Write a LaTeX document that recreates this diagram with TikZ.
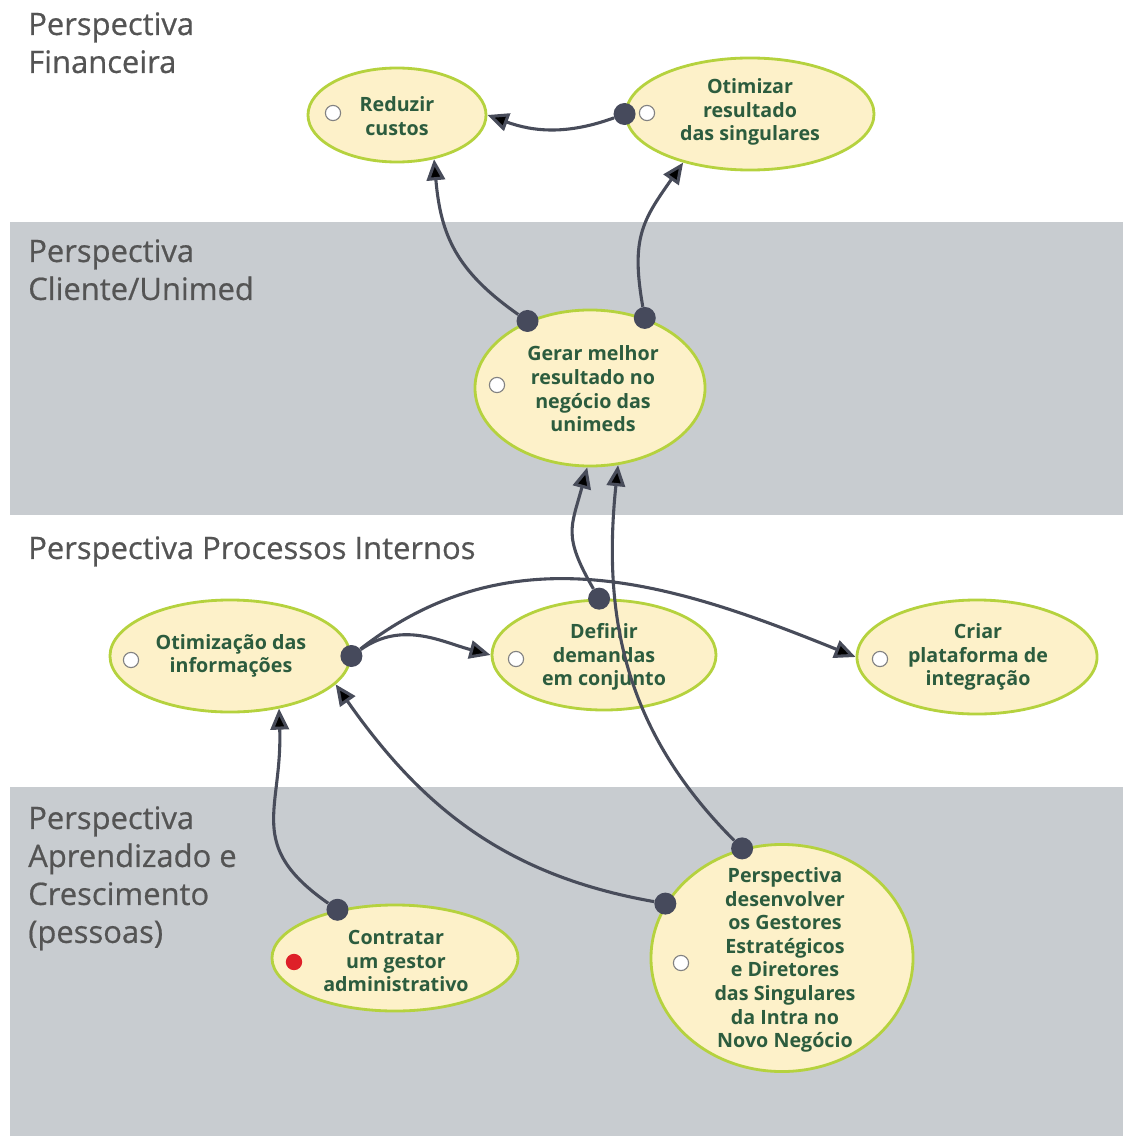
\documentclass[tikz,border=0pt]{standalone}
\usepackage{fontspec}
\setmainfont{Open Sans}
\newfontfamily\titlefont{Open Sans}[FakeBold=0.6]
\usepackage{tikz}
\usetikzlibrary{shapes.geometric,arrows.meta}

\definecolor{bandgray}{RGB}{200,204,208}
\definecolor{ellfill}{RGB}{253,241,201}
\definecolor{ellborder}{RGB}{181,210,62}
\definecolor{txtgreen}{RGB}{44,92,62}
\definecolor{titlegray}{RGB}{84,84,84}
\definecolor{dotblue}{RGB}{70,74,92}
\definecolor{linkgray}{RGB}{72,76,90}
\definecolor{holegray}{RGB}{130,130,130}
\definecolor{holered}{RGB}{222,32,40}

\begin{document}
\begin{tikzpicture}[x=0.025cm, y=-0.025cm,
	ell/.style={shape=ellipse, draw=ellborder, fill=ellfill, line width=2pt, inner sep=0pt},
	txt/.style={align=center, text=txtgreen, font=\fontsize{14}{16.8}\selectfont\bfseries, inner sep=0pt},
	title/.style={anchor=north west, align=left, text=titlegray, font=\titlefont\fontsize{22}{27}\selectfont, inner sep=0pt},
	hole/.style={shape=circle, draw=holegray, fill=white, line width=0.8pt, minimum size=0.38cm, inner sep=0pt},
	dot/.style={shape=circle, fill=dotblue, minimum size=0.55cm, inner sep=0pt},
	link/.style={-{Triangle[length=15pt,width=13pt]}, draw=linkgray, line width=2.2pt}]
	
	\useasboundingbox (0, 0) rectangle (1123, 1136);
	\fill[bandgray] (10, 222) rectangle (1123, 515);
	\fill[bandgray] (10, 787) rectangle (1123, 1136);
	
	\node[title] (tFin) at (28, 12)     {Perspectiva\\Financeira};
	\node[title] (tCli) at (28, 239)    {Perspectiva\\Cliente/Unimed};
	\node[title] (tProc) at (28, 536)   {Perspectiva Processos Internos};
	\node[title] (tApr) at (28, 806)    {Perspectiva\\Aprendizado e\\Crescimento\\(pessoas)};
	
	\node[ell, minimum width=4.45cm, minimum height=2.35cm] (reduzir) at (397, 115)     {};
	\node[ell, minimum width=6.2cm, minimum height=2.8cm] (otimizar) at (750, 114)     {};
	\node[ell, minimum width=5.75cm, minimum height=3.9cm] (gerar) at (590, 388)     {};
	\node[ell, minimum width=6cm, minimum height=2.8cm] (otinfo) at (230, 656)     {};
	\node[ell, minimum width=5.6cm, minimum height=2.75cm] (definir) at (604, 655)     {};
	\node[ell, minimum width=6cm, minimum height=2.85cm] (criar) at (977, 657)     {};
	\node[ell, minimum width=6.15cm, minimum height=2.65cm] (contratar) at (395, 958)     {};
	\node[ell, minimum width=6.55cm, minimum height=5.675cm] (desenv) at (782, 958)     {};
	
	\node[txt] (reduzir-t) at (397, 116)     {Reduzir\\custos};
	\node[txt] (otimizar-t) at (750, 112)     {Otimizar\\resultado\\das singulares};
	\node[txt] (gerar-t) at (593, 389)     {Gerar melhor\\resultado no\\negócio das\\unimeds};
	\node[txt] (otinfo-t) at (231, 656)     {Otimização das\\informações};
	\node[txt] (definir-t) at (604, 657)     {Definir\\demandas\\em conjunto};
	\node[txt] (criar-t) at (978, 657)     {Criar\\plataforma de\\integração};
	\node[txt] (contratar-t) at (396, 961)     {Contratar\\um gestor\\administrativo};
	\node[txt] (desenv-t) at (785, 960)     {Perspectiva\\desenvolver\\os Gestores\\Estratégicos\\e Diretores\\das Singulares\\da Intra no\\Novo Negócio};
	
	\node[hole] (reduzir-c) at (333, 113)     {};
	\node[hole] (otimizar-c) at (647, 113)     {};
	\node[hole] (gerar-c) at (497, 385)     {};
	\node[hole] (otinfo-c) at (131, 660)     {};
	\node[hole] (definir-c) at (516, 659)     {};
	\node[hole] (criar-c) at (880, 659)     {};
	\node[hole, draw=holered, fill=holered] (contratar-c) at (294, 962)     {};
	\node[hole] (desenv-c) at (681, 963)     {};
	
	\node[dot] (dOtim) at (otimizar.west)     {};
	\node[dot] (dGerarL) at (gerar.133)     {};
	\node[dot] (dGerarR) at (gerar.52)     {};
	\node[dot] (dDef) at (definir.95)     {};
	\node[dot] (dInfo) at (otinfo.east)     {};
	\node[dot] (dCon) at (contratar.140)     {};
	\node[dot] (dDesA) at (desenv.110)     {};
	\node[dot] (dDesB) at (desenv.155)     {};
	
	\path[link] (dOtim) edge[out=200, in=-20] (reduzir.east);
	\path[link] (dGerarL) edge[out=145, in=-85, looseness=1.1] (reduzir.-50);
	\path[link] (dGerarR) edge[out=100, in=-125, looseness=1.2] (otimizar.-144);
	
	\path[link] (dDef) edge[out=120, in=-105, looseness=1.3] (gerar.-92);
	\path[link] (dDesA) edge[out=135, in=-96] (gerar.-70);
	
	\path[link] (dInfo) edge[out=35, in=165] (definir.west);
	\path[link] (dInfo) edge[out=38, in=158] (criar.west);
	
	\path[link] (dCon) edge[out=145, in=-88, looseness=1.3] (otinfo.-47);
	\path[link] (dDesB) edge[out=170, in=-55] (otinfo.-15);
	
	\end{tikzpicture}
\end{document}
